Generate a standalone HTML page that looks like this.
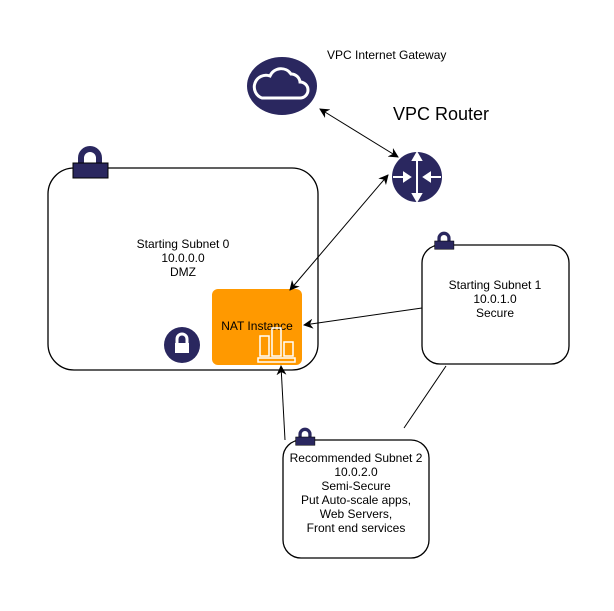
<!DOCTYPE html>
<html><head><style>
body{margin:0;background:#fff;}
svg text{font-family:"Liberation Sans",sans-serif;font-size:12px;fill:#000;}
</style></head><body>
<svg width="614" height="606" viewBox="0 0 614 606" xmlns="http://www.w3.org/2000/svg">
<defs>
<marker id="a" markerWidth="10" markerHeight="10" refX="9" refY="5" orient="auto-start-reverse" markerUnits="userSpaceOnUse"><path d="M0,0 L10,5 L0,10 L3,5 z" fill="#000"/></marker>
<g id="lock"><path d="M-9,2 V-5 A9,9 0 0 1 9,-5 V2" fill="none" stroke="#2a275f" stroke-width="6"/><rect x="-17" y="0" width="35" height="15" fill="#2a275f" stroke="#000" stroke-width="1"/></g>
</defs>
<rect x="48" y="168" width="270" height="202" rx="26" fill="#fff" stroke="#000" stroke-width="1.3"/>
<use href="#lock" x="90" y="163"/>
<text x="183" y="248" text-anchor="middle">Starting Subnet 0</text>
<text x="183" y="262" text-anchor="middle">10.0.0.0</text>
<text x="183" y="276" text-anchor="middle">DMZ</text>
<circle cx="182" cy="345" r="18" fill="#2a275f"/>
<path d="M177,343 V339 A5,5 0 0 1 187,339 V343" fill="none" stroke="#fff" stroke-width="3"/>
<rect x="175" y="343" width="14" height="10" fill="#fff"/>
<rect x="212" y="289" width="90" height="76" rx="6" fill="#f90"/>
<text x="257" y="330" text-anchor="middle">NAT Instance</text>
<g fill="none" stroke="#fff" stroke-width="1.5"><rect x="260" y="336" width="9" height="20"/><rect x="272" y="328" width="9" height="28"/><rect x="284" y="342" width="9" height="14"/><rect x="258" y="358" width="37" height="4"/></g>
<rect x="422" y="245" width="147" height="119" rx="18" fill="#fff" stroke="#000" stroke-width="1.3"/>
<g transform="translate(444,241) scale(0.55)"><use href="#lock"/></g>
<text x="495" y="289" text-anchor="middle">Starting Subnet 1</text>
<text x="495" y="303" text-anchor="middle">10.0.1.0</text>
<text x="495" y="317" text-anchor="middle">Secure</text>
<rect x="283" y="440" width="146" height="118" rx="18" fill="#fff" stroke="#000" stroke-width="1.3"/>
<g transform="translate(305,437) scale(0.55)"><use href="#lock"/></g>
<text x="356" y="462" text-anchor="middle">Recommended Subnet 2</text>
<text x="356" y="476" text-anchor="middle">10.0.2.0</text>
<text x="356" y="490" text-anchor="middle">Semi-Secure</text>
<text x="356" y="504" text-anchor="middle">Put Auto-scale apps,</text>
<text x="356" y="518" text-anchor="middle">Web Servers,</text>
<text x="356" y="532" text-anchor="middle">Front end services</text>
<ellipse cx="282" cy="86" rx="35" ry="29" fill="#2a275f"/>
<path d="M262,98 H300 A8,8 0 0 0 300,82 A9,9 0 0 0 291,74 A12,12 0 0 0 270,76 A10,10 0 0 0 262,98 z" fill="none" stroke="#fff" stroke-width="3"/>
<text x="327" y="59">VPC Internet Gateway</text>
<text x="393" y="120" style="font-size:18px">VPC Router</text>
<circle cx="417" cy="177" r="25" fill="#2a275f"/>
<g stroke="#fff" stroke-width="2" fill="#fff"><line x1="417" y1="155" x2="417" y2="199"/><line x1="393" y1="177" x2="409" y2="177"/><line x1="441" y1="177" x2="425" y2="177"/>
<path d="M413,160 L417,153 L421,160z M413,194 L417,201 L421,194z M404,173 L410,177 L404,181z M430,173 L424,177 L430,181z"/></g>
<g stroke="#000" stroke-width="1" fill="none">
<line x1="320" y1="109" x2="398" y2="157" marker-start="url(#a)" marker-end="url(#a)"/>
<line x1="388" y1="175" x2="290" y2="290" marker-start="url(#a)" marker-end="url(#a)"/>
<line x1="422" y1="308" x2="304" y2="325" marker-end="url(#a)"/>
<line x1="285" y1="440" x2="281" y2="366" marker-end="url(#a)"/>
<line x1="404" y1="428" x2="446" y2="366"/>
</g>
</svg>
</body></html>
